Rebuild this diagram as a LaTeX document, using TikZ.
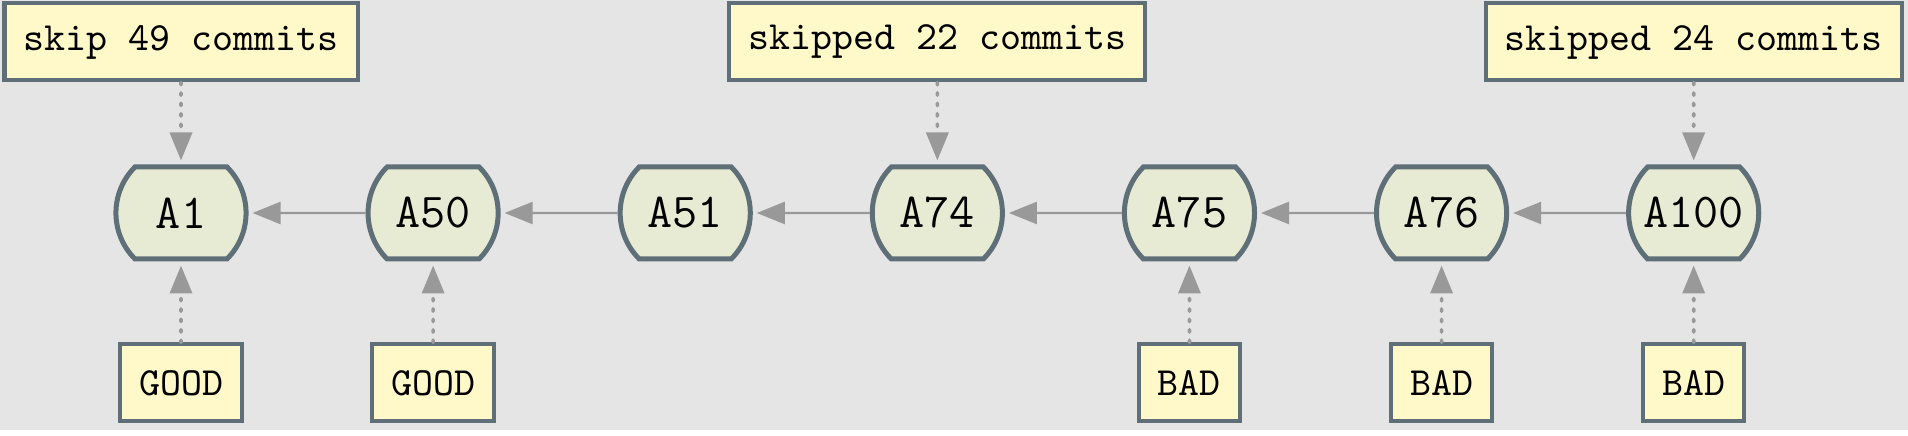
\documentclass[tikz,border=0pt]{standalone}
\usepackage{tikz}
\usepackage{xcolor}
\usetikzlibrary{shapes.misc}
\usetikzlibrary{positioning}
\usetikzlibrary{arrows.meta}

\definecolor{bggrey}{HTML}{E5E5E5}
\definecolor{edgegrey}{HTML}{5E6F78}
\definecolor{tagfill}{HTML}{FFF9C9}
\definecolor{commitfill}{HTML}{E8EBD3}
\definecolor{arrowgrey}{HTML}{999999}

\tikzset{
  commit/.style={rounded rectangle, rounded rectangle arc length=90,
    draw=edgegrey, line width=1.25pt, fill=commitfill,
    font=\ttfamily\fontsize{12.2}{14}\selectfont,
    minimum width=31.5pt, minimum height=23pt, inner xsep=1.5pt},
  tag/.style={rectangle, draw=edgegrey, line width=1pt, fill=tagfill,
    font=\ttfamily, minimum height=19.25pt, inner xsep=4.75pt},
  parent/.style={-{Triangle[length=7pt,width=5.5pt]}, draw=arrowgrey,
    line width=0.6pt, shorten >=1pt},
  pointer/.style={parent, dotted, line width=0.9pt, line cap=round}
}

\begin{document}
\begin{tikzpicture}[x=1pt,y=1pt]
  \fill[bggrey] (0,0) rectangle (477,-107.5);
  \useasboundingbox (0,0) rectangle (477,-109);
  % the chain of commits, oldest on the left
  \node[commit] (a1) at (45.25,-53.25) {A1};
  \node[commit] (a50) [right=29.25pt of a1] {A50};
  \node[commit] (a51) [right=29.25pt of a50] {A51};
  \node[commit] (a74) [right=29.25pt of a51] {A74};
  \node[commit] (a75) [right=29.25pt of a74] {A75};
  \node[commit] (a76) [right=29.25pt of a75] {A76};
  \node[commit] (a100) [right=29.25pt of a76] {A100};
  \draw[parent] (a50) -- (a1);
  \draw[parent] (a51) -- (a50);
  \draw[parent] (a74) -- (a51);
  \draw[parent] (a75) -- (a74);
  \draw[parent] (a76) -- (a75);
  \draw[parent] (a100) -- (a76);
  % notes above
  \node[tag] (skip49) [above=20.5pt of a1] {skip 49 commits};
  \node[tag] (skip22) [above=20.5pt of a74] {skipped 22 commits};
  \node[tag] (skip24) [above=20.5pt of a100] {skipped 24 commits};
  \draw[pointer] (skip49) -- (a1);
  \draw[pointer] (skip22) -- (a74);
  \draw[pointer] (skip24) -- (a100);
  % verdicts below
  \node[tag] (good1) [below=20.25pt of a1] {GOOD};
  \node[tag] (good50) [below=20.25pt of a50] {GOOD};
  \node[tag] (bad75) [below=20.25pt of a75] {BAD};
  \node[tag] (bad76) [below=20.25pt of a76] {BAD};
  \node[tag] (bad100) [below=20.25pt of a100] {BAD};
  \draw[pointer] (good1) -- (a1);
  \draw[pointer] (good50) -- (a50);
  \draw[pointer] (bad75) -- (a75);
  \draw[pointer] (bad76) -- (a76);
  \draw[pointer] (bad100) -- (a100);
\end{tikzpicture}
\end{document}
